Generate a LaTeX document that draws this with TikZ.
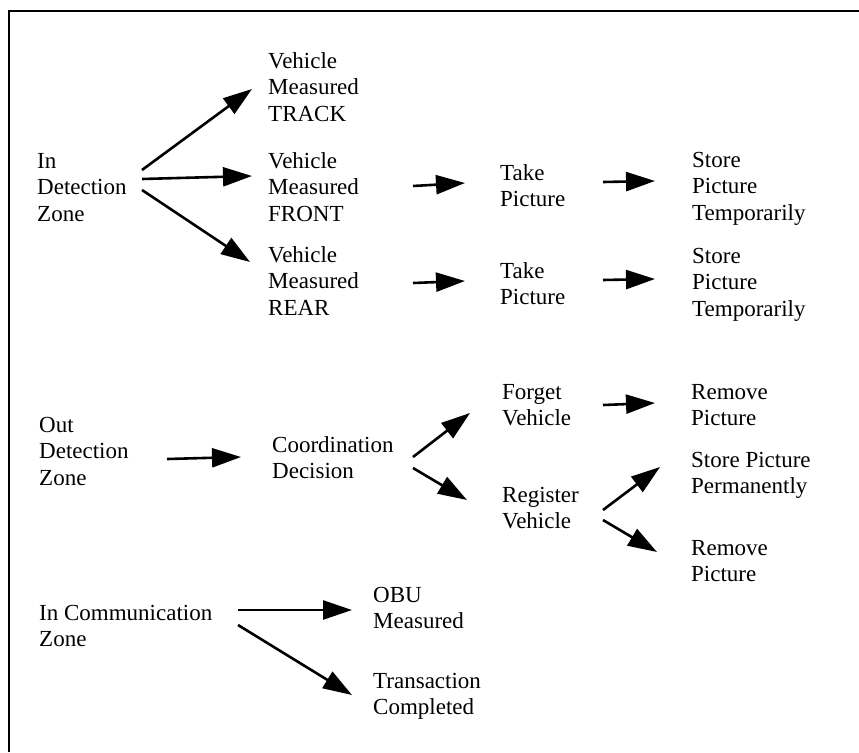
\documentclass[tikz,border=0pt]{standalone}
\usepackage{fontspec}
\setmainfont{Liberation Serif}
\usetikzlibrary{arrows.meta}
\newcommand\mlines[1]{\begin{tabular}[t]{@{}l@{}}#1\end{tabular}}
\begin{document}
\begin{tikzpicture}[x=1pt,y=-1pt,
  lbl/.style={anchor=base west, inner sep=0pt, font=\fontsize{23}{26.5}\selectfont},
  arr/.style={line width=2.6pt, -{Triangle[length=29pt,width=19pt]}},
  frame/.style={line width=2.5pt}]
\useasboundingbox (0,0) rectangle (859,752);
\draw[frame] (9,752) -- (9,11) -- (859,11);
% nodes
\node[lbl] (idz)  at (37,168)  {\mlines{In\\Detection\\Zone}};
\node[lbl] (vmt)  at (268,68)  {\mlines{Vehicle\\Measured\\TRACK}};
\node[lbl] (vmf)  at (268,168) {\mlines{Vehicle\\Measured\\FRONT}};
\node[lbl] (vmr)  at (268,262) {\mlines{Vehicle\\Measured\\REAR}};
\node[lbl] (tp1)  at (500,180) {\mlines{Take\\Picture}};
\node[lbl] (tp2)  at (500,278) {\mlines{Take\\Picture}};
\node[lbl] (spt1) at (692,167) {\mlines{Store\\Picture\\Temporarily}};
\node[lbl] (spt2) at (692,263) {\mlines{Store\\Picture\\Temporarily}};
\node[lbl] (odz)  at (39,432)  {\mlines{Out\\Detection\\Zone}};
\node[lbl] (cd)   at (272,452) {\mlines{Coordination\\Decision}};
\node[lbl] (fv)   at (502,399) {\mlines{Forget\\Vehicle}};
\node[lbl] (rv)   at (502,502) {\mlines{Register\\Vehicle}};
\node[lbl] (rp1)  at (691,399) {\mlines{Remove\\Picture}};
\node[lbl] (spp)  at (691,467) {\mlines{Store Picture\\Permanently}};
\node[lbl] (rp2)  at (691,555) {\mlines{Remove\\Picture}};
\node[lbl] (icz)  at (39,620)  {\mlines{In Communication\\Zone}};
\node[lbl] (obu)  at (373,602) {\mlines{OBU\\Measured}};
\node[lbl] (tc)   at (373,688) {\mlines{Transaction\\Completed}};
% connectors
\draw[arr] ([shift={(105,2)}]idz.base west) -- ([shift={(-16,21)}]vmt.base west);
\draw[arr] ([shift={(105,11)}]idz.base west) -- ([shift={(-16,8)}]vmf.base west);
\draw[arr] ([shift={(105,22)}]idz.base west) -- ([shift={(-18,0)}]vmr.base west);
\draw[arr] ([shift={(145,18)}]vmf.base west) -- ([shift={(-35,3)}]tp1.base west);
\draw[arr] ([shift={(145,21)}]vmr.base west) -- ([shift={(-35,3)}]tp2.base west);
\draw[arr] ([shift={(103,2)}]tp1.base west) -- ([shift={(-37,14)}]spt1.base west);
\draw[arr] ([shift={(103,2)}]tp2.base west) -- ([shift={(-37,16)}]spt2.base west);
\draw[arr] ([shift={(128,27)}]odz.base west) -- ([shift={(-31,5)}]cd.base west);
\draw[arr] ([shift={(141,5)}]cd.base west) -- ([shift={(-32,14)}]fv.base west);
\draw[arr] ([shift={(141,16)}]cd.base west) -- ([shift={(-35,-2)}]rv.base west);
\draw[arr] ([shift={(101,6)}]fv.base west) -- ([shift={(-36,4)}]rp1.base west);
\draw[arr] ([shift={(101,8)}]rv.base west) -- ([shift={(-31,0)}]spp.base west);
\draw[arr] ([shift={(101,18)}]rv.base west) -- ([shift={(-34,-3)}]rp2.base west);
\draw[arr] ([shift={(199,-10)}]icz.base west) -- ([shift={(-21,8)}]obu.base west);
\draw[arr] ([shift={(199,5)}]icz.base west) -- ([shift={(-21,7)}]tc.base west);
\end{tikzpicture}
\end{document}
